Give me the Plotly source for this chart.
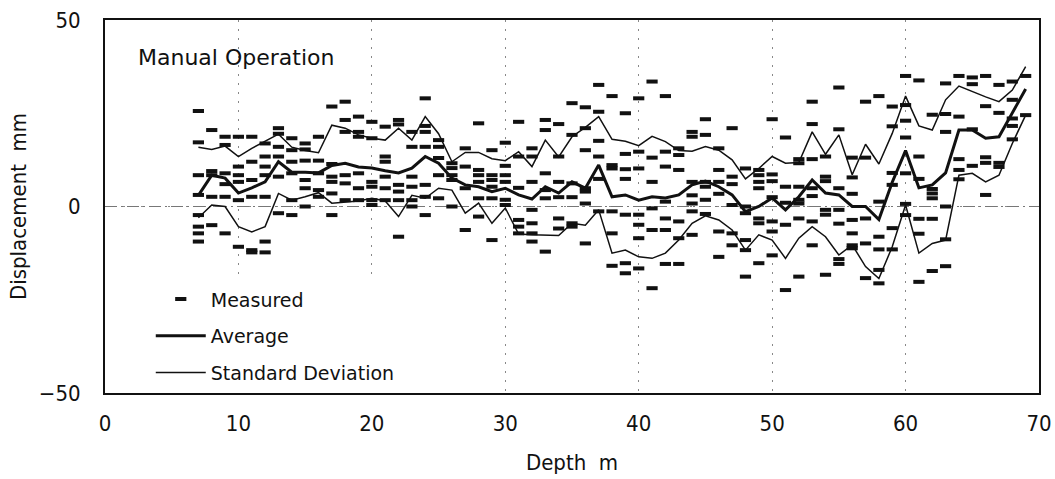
import plotly.graph_objects as go

depths = list(range(7, 70))

average = [3, 8.4, 7.6, 3.6, 5, 6.6, 12, 9.2, 9.2, 9, 11, 11.6, 10.6, 10.3, 9.6, 9, 10.3, 13.4,
           11.6, 7.6, 5.8, 5.3, 4, 4.9, 3.1, 2, 5.3, 3.6, 6.6, 4.9, 11.1, 2.6, 3.1, 1.7, 2.6, 2.3,
           3.1, 5.8, 6.8, 5.3, 3.1, -1.4, 0, 2.3, -0.9, 2.6, 7.1, 3.6, 3.1, 0, 0, -3.5, 6.5, 15,
           5, 5.8, 9, 20.5, 20.5, 18.3, 18.7, 25, 31.5]

sd_upper = [15.9, 15.3, 16.2, 13.4, 15.6, 17.4, 19.4, 15.9, 15, 14.4, 21.8, 21, 19.2, 18.3, 17.8,
            21, 17.8, 24.1, 19.5, 12, 14.5, 14.5, 12.8, 12.3, 14.7, 10.7, 17.8, 13.3, 18.7, 21.2,
            24.1, 18, 17.5, 16.3, 18.8, 17.4, 15, 14.8, 16.1, 15.1, 12.5, 7.4, 10.2, 13.4, 11.6,
            11.8, 20, 14, 19.2, 8.5, 16.7, 11.4, 19.6, 29.6, 21.6, 20.5, 28.6, 32.3, 30.8, 29.4,
            28.1, 31.2, 37.5]

sd_lower = [-3, 0.4, 0, -5.4, -6.8, -5.4, 3.5, 1.7, 2.6, 3.7, 0.9, 1.3, 1.5, 2.2, 1.5, -2.7, 3,
            2.2, 4.9, 4.4, -1.8, 0.9, -4.5, -0.4, -7.4, -7.6, -7.6, -7.8, -4.5, -5, -0.9, -12.5,
            -11.7, -13.5, -13.9, -12.5, -9, -4.5, -2.5, -3.6, -6.3, -11.7, -7.6, -9, -13.9, -8.5,
            -5.4, -8.1, -13, -10.3, -16.1, -19.3, -10.8, 0.4, -12.5, -9.9, -9, 8.4, 8.9, 6.6, 8.4,
            16.9, 24.5]

measured = [
    [25.6, 17.2, 8.4, 3.1, -2.3, -5.4, -7.2, -9.4],
    [20.5, 9.5, 8.4, 2.6, -5],
    [18.7, 16.5, 8.9, 6, 2.6, -7.2],
    [18.7, 10.7, 8.4, 6.6, 1.7, -10.8],
    [18.7, 12, 7.1, 2.6, -11.7, -12.3],
    [16.9, 13.4, 10.7, 8.4, 2.6, -9.4, -12.3],
    [21, 19.5, 16, 13.4, 8, -1.8],
    [18.3, 15.1, 12, 8.9, 1.7, -2.3],
    [16.9, 15.3, 12.3, 7.1, 4.9, 0],
    [18.7, 12.3, 8.9, 4.4, 2.6],
    [26.8, 11.4, 8, 6.6, 3.5, -2.3],
    [28.1, 23.2, 20, 8.4, 6.2, 1.7],
    [24.1, 20, 18.7, 8.9, 4.9, 1.7],
    [22.7, 18.3, 6.6, 5.3, 1.7, 0.4],
    [21.4, 13.4, 12, 8, 4.9, 1.7],
    [23.2, 22, 5.8, 4, 1.7, -8.1],
    [20, 16, 8, 5.3, 1.7, 0],
    [29, 21.6, 20, 16, 5.8, 2.6, -2.3],
    [17.8, 16, 13, 8.4, 2.2],
    [11.6, 10.3, 8.4, 7.1, 0],
    [15.6, 10.7, 4.9, -6.3],
    [22.3, 9.8, 8.4, 6.6, 2.2, -2.7],
    [15.1, 8.4, 7.1, 5.3, 2.2, -9],
    [17.1, 10.9, 8.4, 6.6, 1.8, 0.4],
    [22.7, 13.4, 5, -3.6, -5.4, -7.2],
    [15.6, 13.4, 6.6, -0.9, -4.5, -7.2, -9.4],
    [23.2, 20.5, 8.9, 4.4, 2.2, -12.1],
    [22.1, 13.4, 6.6, 2.5, -3.2, -5.9],
    [27.7, 19.2, 6.2, 2.5, -4.5, -5.4],
    [26.6, 21, 15.1, 4.9, 4, 0.8, -9.9],
    [32.6, 25.4, 17.6, 13.4, 7.4, -1.3],
    [29.6, 11.1, 10.2, -1.3, -7.2, -15.9],
    [25, 14.1, 10, 7.4, -2.2, -15.2, -17.9],
    [29, 14.7, 10.2, -2.2, -4.9, -8.5, -16.6],
    [33.5, 13.1, 6.6, -0.5, -6.3, -21.9],
    [29.6, 14.7, 10.7, 1.3, -3.2, -6.3, -15.4],
    [15.6, 13.8, 9.8, -4, -8.5, -15.4],
    [20, 18.7, 6.6, 3, 0.8, -1.3, -7.6],
    [23.4, 19.2, 6.6, 5.3, 1.8, -2],
    [15.6, 9.8, 6.6, 3.4, -6.7, -13.5],
    [21, 8, 6, 0.4, -7.2, -10.4],
    [10.2, 0, -1.8, -9, -11.7, -18.8],
    [9.8, 8.4, 6.6, 4.9, -3.2, -4.5, -15.2],
    [23.4, 8.6, 6.8, 2.5, -4, -6.7, -13.1],
    [18.5, 5.3, 1, -4.9, -22.4],
    [12.7, 11.6, 5.3, 1.8, 0.8, -3.2, -18.8],
    [28.1, 22.1, 12.7, 4.9, 2.8, -4, -10.4],
    [13.4, 8, 6.8, -0.9, -2.2, -18.3],
    [31.9, 20.7, 4.9, -0.9, -4.6, -14.1, -15.4],
    [13.1, 7.8, 3.4, -3.6, -7.2, -10.4, -11.2],
    [28.1, 13.1, -3.2, -9.9, -19.2],
    [29.6, 1.3, -8.1, -11.5, -17, -20.6],
    [26.8, 21.5, 9, 5.8, -5.8, -11.5],
    [35, 27.2, 23, 18.5, 8.9, 0.7, -2.3],
    [33.8, 13.4, 7.4, -3.3, -7.3, -20.2],
    [24.6, 4.7, 3.5, 2.2, -3.3, -17.3],
    [33, 24.8, 20, 0, -8.8, -16],
    [35, 24.1, 12.7, 9.8, 7.3],
    [34.6, 32.8, 20.7, 10.9],
    [35, 26.9, 13.2, 11.7, 3.1],
    [32.6, 25.1, 11.7, 10.6],
    [33.5, 28.6, 23.6, 21.6, 18],
    [35, 24.5],
]

x_ticks = [0, 10, 20, 30, 40, 50, 60, 70]
y_ticks = [-50, 0, 50]

mx, my = [], []
for d, vals in zip(depths, measured):
    for v in vals:
        mx.append(d)
        my.append(v)

INK = "#111111"
NARROW = "DejaVu Sans Condensed, Liberation Sans Narrow, Arial Narrow, sans-serif"
GOTHIC = "DejaVu Sans, sans-serif"

fig = go.Figure()
fig.add_trace(go.Scatter(
    x=mx, y=my, mode="markers", name="Measured", legendgroup="a",
    marker=dict(symbol="line-ew", size=8, color=INK, line=dict(width=4, color=INK)),
))
fig.add_trace(go.Scatter(
    x=depths, y=average, mode="lines", name="Average", legendgroup="b",
    line=dict(color=INK, width=3),
))
fig.add_trace(go.Scatter(
    x=depths, y=sd_upper, mode="lines", name="Standard Deviation", legendgroup="c",
    line=dict(color=INK, width=1.5),
))
fig.add_trace(go.Scatter(
    x=depths, y=sd_lower, mode="lines", name="Standard Deviation", legendgroup="c",
    showlegend=False, line=dict(color=INK, width=1.5),
))

fig.update_layout(
    width=1055, height=479,
    margin=dict(l=105, r=16, t=20, b=86, autoexpand=False),
    paper_bgcolor="white", plot_bgcolor="white",
    showlegend=True,
    legend=dict(
        x=0.049, y=0.002, xanchor="left", yanchor="bottom",
        bgcolor="rgba(255,255,255,0)", borderwidth=0,
        font=dict(family=GOTHIC, size=19, color=INK),
        traceorder="grouped", tracegroupgap=9, itemwidth=50,
    ),
    xaxis=dict(
        range=[0, 70], tickvals=x_ticks, ticks="", ticklabelstandoff=10, automargin=False,
        showgrid=True, gridcolor="#888888", griddash="2px,7px", gridwidth=1,
        zeroline=False, showline=True, mirror=True, linecolor=INK, linewidth=2,
        tickfont=dict(family=NARROW, size=22, color=INK),
        title=dict(text="Depth\u00a0\u00a0m", font=dict(family=NARROW, size=22, color=INK), standoff=19),
    ),
    yaxis=dict(
        range=[-50, 50], tickvals=y_ticks, ticks="", ticklabelstandoff=18, automargin=False,
        showgrid=True, gridcolor="#888888", griddash="2px,7px", gridwidth=1,
        zeroline=False, showline=True, mirror=True, linecolor=INK, linewidth=2,
        tickfont=dict(family=NARROW, size=22, color=INK),
        title=dict(text="Displacement\u00a0\u00a0mm", font=dict(family=NARROW, size=22, color=INK), standoff=6),
    ),
    shapes=[
        dict(type="rect", xref="x", yref="y", x0=0, x1=26.6, y0=-50, y1=-19.2,
             fillcolor="white", line=dict(width=0), layer="between"),
        dict(type="line", xref="x", yref="y", x0=0, x1=70, y0=0, y1=0,
             line=dict(color="#777777", width=1, dash="12px,4px,2px,4px"), layer="between"),
    ],
    annotations=[
        dict(x=2.3, y=40, xref="x", yref="y", text="Manual Operation", showarrow=False,
             xanchor="left", yanchor="middle", font=dict(family=GOTHIC, size=22, color=INK)),
    ],
)

fig.write_html(
    "out.html",
    config={"displayModeBar": False},
    post_script="document.body.style.margin='0';document.body.style.overflow='hidden';",
)
